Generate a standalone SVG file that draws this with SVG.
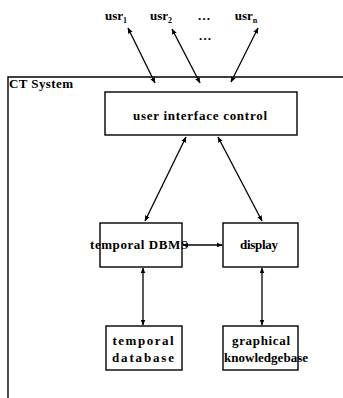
<svg xmlns="http://www.w3.org/2000/svg" width="343" height="398" viewBox="0 0 343 398">
<style>
.box{fill:#fff;stroke:#000;stroke-width:1.4}
.t{font-family:"Liberation Serif","Times New Roman",serif;font-weight:bold;font-size:13px;fill:#000;text-anchor:middle}
.c{fill:none;stroke:#000;stroke-width:1.3;marker-start:url(#a);marker-end:url(#a)}
</style>
<defs>
<marker id="a" viewBox="0 0 10 10" refX="9" refY="5" markerWidth="6" markerHeight="6" markerUnits="userSpaceOnUse" orient="auto-start-reverse">
<path d="M0,1 L10,5 L0,9 z" fill="#000"/>
</marker>
</defs>
<rect width="343" height="398" fill="#fff"/>
<g id="system">
<path d="M8,398 V77 H343" fill="none" stroke="#000" stroke-width="1.4"/>
<text x="9" y="88" class="t" style="text-anchor:start" textLength="64">CT System</text>
</g>
<g id="users">
<text x="116" y="20" class="t">usr<tspan font-size="8" dy="3">1</tspan></text>
<text x="161" y="20" class="t">usr<tspan font-size="8" dy="3">2</tspan></text>
<text x="204" y="20" class="t">…</text>
<text x="246" y="20" class="t">usr<tspan font-size="8" dy="3">n</tspan></text>
<text x="205" y="40" class="t">…</text>
</g>
<g id="uic">
<rect class="box" x="105" y="92" width="192" height="43"/>
<text x="200" y="120" class="t" textLength="134">user interface control</text>
</g>
<g id="tdbms">
<rect class="box" x="100" y="223" width="82" height="44"/>
<text x="139" y="249" class="t" textLength="98">temporal DBMS</text>
</g>
<g id="display">
<rect class="box" x="223" y="223" width="75" height="44"/>
<text x="259" y="249" class="t" textLength="38">display</text>
</g>
<g id="tdb">
<rect class="box" x="106" y="326" width="76" height="44"/>
<text x="143" y="345" class="t" textLength="61">temporal</text>
<text x="143" y="362" class="t" textLength="62">database</text>
</g>
<g id="gkb">
<rect class="box" x="223" y="326" width="75" height="44"/>
<text x="261" y="345" class="t" textLength="58">graphical</text>
<text x="266" y="362" class="t" textLength="84">knowledgebase</text>
</g>
<g id="connectors">
<line class="c" x1="155" y1="83" x2="128" y2="28"/>
<line class="c" x1="200" y1="83" x2="172" y2="29"/>
<line class="c" x1="231" y1="82" x2="258" y2="28"/>
<line class="c" x1="186" y1="137" x2="145" y2="221"/>
<line class="c" x1="218" y1="137" x2="262" y2="221"/>
<line class="c" x1="183" y1="245" x2="222" y2="245"/>
<line class="c" x1="143" y1="268" x2="143" y2="325"/>
<line class="c" x1="262" y1="268" x2="262" y2="325"/>
</g>
</svg>
